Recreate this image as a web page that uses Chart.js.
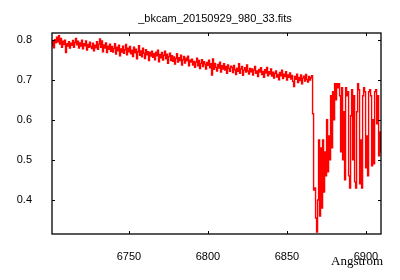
<!DOCTYPE html>
<html>
<head>
<meta charset="utf-8">
<script src="https://cdn.jsdelivr.net/npm/chart.js@4"></script>
<style>
  body { margin: 0; background: #fff; }
</style>
</head>
<body>
<canvas id="myChart" width="400" height="280"></canvas>
<script>
// spectrum from the fits file, linear dispersion (start + step per pixel)
const fileName = '_bkcam_20150929_980_33.fits';
const xLabel = 'Angstrom';
const waveStart = 6701.3;
const waveStep = 0.633;

const xTicks = [6750, 6800, 6850, 6900];
const yTicks = [0.4, 0.5, 0.6, 0.7, 0.8];

// continuum part
const fluxCont = [
  0.785, 0.797, 0.780, 0.800, 0.792, 0.806, 0.795, 0.810, 0.789, 0.803, 0.781, 0.796, 0.788, 0.799, 0.768, 0.790, 0.784, 0.795, 0.779, 0.791,
  0.786, 0.798, 0.781, 0.793, 0.803, 0.787, 0.796, 0.779, 0.792, 0.784, 0.799, 0.777, 0.790, 0.785, 0.797, 0.774, 0.788, 0.781, 0.794, 0.783,
  0.778, 0.791, 0.772, 0.786, 0.780, 0.795, 0.776, 0.789, 0.802, 0.781, 0.797, 0.770, 0.787, 0.779, 0.792, 0.768, 0.784, 0.776, 0.789, 0.771,
  0.783, 0.769, 0.778, 0.790, 0.764, 0.781, 0.772, 0.786, 0.760, 0.777, 0.769, 0.784, 0.766, 0.775, 0.788, 0.762, 0.779, 0.770, 0.783, 0.765,
  0.774, 0.758, 0.781, 0.767, 0.776, 0.752, 0.770, 0.785, 0.761, 0.772, 0.757, 0.779, 0.766, 0.753, 0.775, 0.762, 0.770, 0.748, 0.768, 0.759,
  0.771, 0.756, 0.765, 0.750, 0.769, 0.760, 0.774, 0.745, 0.763, 0.755, 0.768, 0.749, 0.761, 0.771, 0.752, 0.764, 0.741, 0.758, 0.766, 0.748,
  0.760, 0.746, 0.757, 0.739, 0.753, 0.765, 0.744, 0.755, 0.748, 0.761, 0.737, 0.750, 0.758, 0.742, 0.754, 0.747, 0.759, 0.735, 0.749, 0.744,
  0.751, 0.737, 0.746, 0.731, 0.744, 0.754, 0.735, 0.748, 0.728, 0.741, 0.750, 0.733, 0.745, 0.739, 0.727, 0.743, 0.736, 0.749, 0.730, 0.740,
  0.712, 0.752, 0.726, 0.741, 0.731, 0.722, 0.738, 0.729, 0.744, 0.719, 0.735, 0.727, 0.740, 0.724, 0.733, 0.716, 0.737, 0.728, 0.721, 0.734,
  0.731, 0.718, 0.736, 0.725, 0.713, 0.729, 0.721, 0.740, 0.716, 0.727, 0.733, 0.711, 0.724, 0.730, 0.719, 0.737, 0.722, 0.714, 0.728, 0.720,
  0.727, 0.712, 0.724, 0.733, 0.716, 0.722, 0.708, 0.726, 0.719, 0.730, 0.713, 0.721, 0.706, 0.725, 0.717, 0.731, 0.710, 0.720, 0.714, 0.727,
  0.709, 0.719, 0.704, 0.716, 0.722, 0.707, 0.713, 0.700, 0.718, 0.710, 0.724, 0.703, 0.714, 0.708, 0.720, 0.699, 0.712, 0.706, 0.717, 0.702,
  0.711, 0.696, 0.683, 0.708, 0.701, 0.714, 0.693, 0.706, 0.698, 0.712, 0.690, 0.704, 0.709, 0.697, 0.713, 0.701, 0.694, 0.708, 0.699, 0.705, 0.710
];

// O2 B band absorption
const fluxBand = [
  0.615, 0.425, 0.430, 0.355, 0.320, 0.400, 0.550, 0.360, 0.530, 0.380, 0.550, 0.420, 0.520, 0.460, 0.600, 0.470, 0.560, 0.500, 0.660, 0.530,
  0.670, 0.600, 0.690, 0.650, 0.690, 0.680, 0.690, 0.660, 0.520, 0.680, 0.500, 0.620, 0.450, 0.680, 0.660, 0.670, 0.460, 0.430, 0.610, 0.675,
  0.500, 0.660, 0.445, 0.430, 0.620, 0.690, 0.675, 0.440, 0.550, 0.430, 0.660, 0.680, 0.670, 0.480, 0.560, 0.460, 0.670, 0.675, 0.660, 0.485,
  0.600, 0.490, 0.670, 0.675, 0.590, 0.660, 0.510, 0.570, 0.520
];

const flux = fluxCont.concat(fluxBand);
const points = flux.map((f, i) => ({ x: waveStart + i * waveStep, y: f }));

// inward ticks + frame like gnuplot
const framePlugin = {
  id: 'frame',
  afterDraw(chart) {
    const ctx = chart.ctx;
    const a = chart.chartArea;
    const xs = chart.scales.x, ys = chart.scales.y;
    ctx.save();
    ctx.strokeStyle = '#000';
    ctx.lineWidth = 1;
    ctx.beginPath();
    xTicks.forEach(v => {
      const px = Math.round(xs.getPixelForValue(v)) + 0.5;
      ctx.moveTo(px, a.bottom); ctx.lineTo(px, a.bottom - 3);
      ctx.moveTo(px, a.top); ctx.lineTo(px, a.top + 3);
    });
    yTicks.forEach(v => {
      const py = Math.round(ys.getPixelForValue(v)) + 0.5;
      ctx.moveTo(a.left, py); ctx.lineTo(a.left + 3, py);
      ctx.moveTo(a.right, py); ctx.lineTo(a.right - 3, py);
    });
    ctx.stroke();
    ctx.lineWidth = 1.3;
    ctx.strokeRect(a.left, a.top, a.right - a.left, a.bottom - a.top);

    ctx.fillStyle = '#000';
    ctx.font = '11px "Liberation Sans"';
    ctx.textAlign = 'center';
    ctx.textBaseline = 'middle';
    ctx.fillText(fileName, 215, 19);
    ctx.font = '13px "Liberation Serif"';
    ctx.textAlign = 'right';
    ctx.fillText(xLabel, 383, 262);
    ctx.restore();
  }
};

const data = {
  datasets: [{
    data: points,
    borderColor: '#ff0000',
    borderWidth: 1.4,
    pointRadius: 0,
    stepped: 'middle'
  }]
};

const config = {
  type: 'line',
  data: data,
  options: {
    responsive: false,
    animation: false,
    layout: { padding: { top: 33, right: 19, bottom: 0, left: 0 } },
    plugins: {
      legend: { display: false },
      title: { display: false },
      tooltip: { enabled: false }
    },
    scales: {
      x: {
        type: 'linear',
        min: 6701.3,
        max: 6909.5,
        grid: { display: false },
        border: { display: false },
        afterFit: s => { s.height = 46; },
        afterBuildTicks: s => { s.ticks = xTicks.map(v => ({ value: v })); },
        ticks: {
          padding: 8,
          color: '#000',
          font: { family: 'Liberation Sans', size: 11 },
          maxRotation: 0,
          callback: v => String(v)
        }
      },
      y: {
        min: 0.315,
        max: 0.8167,
        grid: { display: false },
        border: { display: false },
        afterFit: s => { s.width = 52; },
        afterBuildTicks: s => { s.ticks = yTicks.map(v => ({ value: v })); },
        ticks: {
          padding: 12,
          color: '#000',
          font: { family: 'Liberation Sans', size: 11 },
          callback: v => v.toFixed(1)
        }
      }
    }
  },
  plugins: [framePlugin]
};

const myChart = new Chart(document.getElementById('myChart'), config);
</script>
</body>
</html>
